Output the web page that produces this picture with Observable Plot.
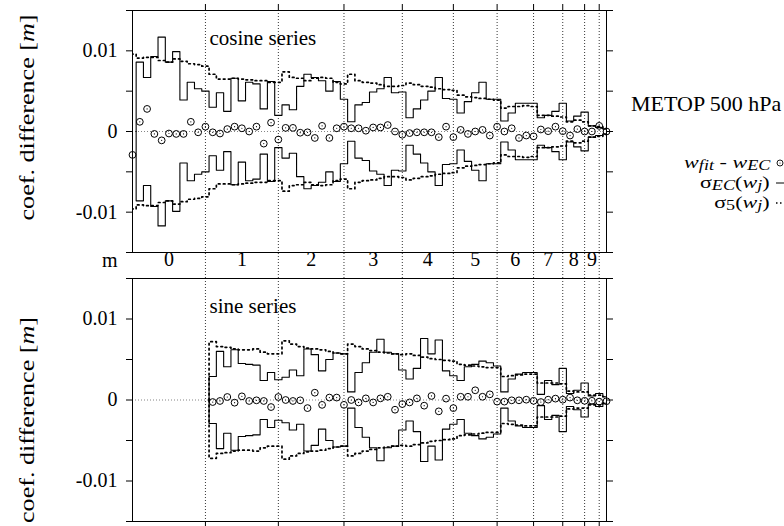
<!DOCTYPE html>
<html><head><meta charset="utf-8">
<script src="https://cdn.jsdelivr.net/npm/d3@7"></script>
<script src="https://cdn.jsdelivr.net/npm/@observablehq/plot@0.6"></script>
<style>
body{margin:0;background:#fff;}
#wrap{position:relative;width:784px;height:526px;overflow:hidden;background:#fff;font-family:"Liberation Serif","Times New Roman",serif;color:#000;}
#wrap svg{display:block;}
.leg{position:absolute;white-space:nowrap;font-size:17px;line-height:17px;transform:scaleX(1.3);transform-origin:right center;}
.leg sub{font-size:0.82em;vertical-align:-0.16em;line-height:0;}
.sym{position:absolute;}
</style></head><body><div id="wrap"></div>
<script>
// ---- axis / category data ----
const mBoundaries = [0, 10, 20, 29, 37, 44, 50, 55, 59, 62, 64];
const mLabels = ["0","1","2","3","4","5","6","7","8","9"];
const xDomain = [0, 65];
const yDomain = [-0.015, 0.015];
const yTickValues = [-0.01, 0, 0.01];
const yTickLabels = ["-0.01", "0", "0.01"];
const yMinorTicks = [-0.015, -0.005, 0.005, 0.015];

// ---- cosine series (coefficient index 0..65) ----
const cosStart = 0;
const cosDiff = [
 -0.0029, 0.0012, 0.0028, -0.0003, -0.0011, -0.00025, -0.0003, -0.0003, 0.0012, -0.0001,
 0.0006, -0.0001, -0.00025, 0.0003, 0.0006, 0.0004, 0, 0.0006, -0.0015, 0.0011,
 -0.001, 0.00045, 0.00045, -0.00015, -0.0001, -0.0008, 0.0007, -0.0008, 0.0004, 0.0006,
 0.0004, 0.0004, 0.0001, 0.0005, 0.0005, 0.0008, 0, -0.0004, -0.0002, -0.0001,
 -0.0001, -0.0001, -0.0007, 0.0006, -0.0007, 0.0002, -0.0003, 0, 0.0002, -0.0005,
 0.0006, 0, 0.0004, -0.0008, -0.0005, -0.0006, 0.00025, 0.00004, 0.0006, 0.00004,
 -0.0005, 0.0003, 0, 0, 0.0007, 0
];
const cosSigmaEC = [
 null, 0.0086, 0.0067, 0.0093, 0.0117, 0.0086, 0.0099, 0.0039, 0.0061, 0.0053,
 0.0050, 0.0030, 0.0048, 0.0025, 0.0066, 0.0038, 0.0061, 0.0059, 0.0028, 0.0062,
 0.0020, 0.0033, 0.0027, 0.0056, 0.0071, 0.0067, 0.0063, 0.0050, 0.0062, 0.0040,
 0.0012, 0.0033, 0.0036, 0.0049, 0.0053, 0.0067, 0.0048, 0.0049, 0.0017, 0.0028,
 0.0039, 0.0050, 0.0067, 0.0041, 0.0040, 0.0023, 0.0037, 0.0048, 0.0061, 0.0040,
 0.0040, 0.0013, 0.0023, 0.0035, 0.0035, 0.0035, 0.0017, 0.0020, 0.0025, 0.0035,
 0.0013, 0.0019, 0.0024, 0.0007, 0.0005, 0.0003
];
const cosSigma5 = [
 0.0096, 0.0091, 0.0092, 0.0092, 0.0088, 0.0086, 0.0090, 0.0087, 0.0084, 0.0083,
 0.0081, 0.0071, 0.0065, 0.0065, 0.0066, 0.0065, 0.0064, 0.0063, 0.0063, 0.0061,
 0.0061, 0.0074, 0.0067, 0.0066, 0.0063, 0.0066, 0.0067, 0.0066, 0.0061, 0.0059,
 0.0071, 0.0063, 0.0061, 0.0060, 0.0058, 0.0056, 0.0056, 0.0057, 0.0060, 0.0058,
 0.0056, 0.0055, 0.0053, 0.0052, 0.0051, 0.0045, 0.0043, 0.0042, 0.0041, 0.0040,
 0.0039, 0.0029, 0.0031, 0.0031, 0.0032, 0.0031, 0.0020, 0.0020, 0.0019, 0.0018,
 0.0012, 0.0014, 0.0012, 0.0007, 0.0006, 0.0004
];

// ---- sine series (coefficient index 11..65) ----
const sinStart = 11;
const sinDiff = [
 -0.00025, -0.00012, 0.00037, -0.00033, 0.00045, -0.00012, -0.00004, -0.00012, -0.00087,
 0.00037, 0, -0.00012, -0.00004, -0.001, 0.0009, -0.0006, 0.0003, 0.0003, -0.0006,
 0, -0.0003, 0.0002, -0.0003, 0.0002, 0.0004, -0.0012, -0.0005, -0.0003, 0.0002,
 -0.0007, 0.0005, -0.0014, 0.00017, -0.001, 0.0004, 0.0004, 0.0012, 0.0004, 0.0007,
 -0.0002, -0.0002, -0.00004, -0.00004, 0.00004, -0.0001, -0.00025, 0.00004, 0.00017, 0.00004,
 0.0003, -0.00004, -0.0001, -0.0001, -0.0002, -0.00015
];
const sinSigmaEC = [
 0.0029, 0.0060, 0.0041, 0.0062, 0.0045, 0.0044, 0.0043, 0.0024, 0.0034,
 0.0025, 0.0028, 0.0037, 0.0030, 0.0063, 0.0056, 0.0036, 0.0050, 0.0058, 0.0057,
 0.0010, 0.0034, 0.0046, 0.0059, 0.0075, 0.0059, 0.0057, 0.0037, 0.0026, 0.0039,
 0.0076, 0.0057, 0.0074, 0.0036, 0.0030, 0.0024, 0.0041, 0.0044, 0.0048, 0.0046,
 0.0042, 0.0010, 0.0026, 0.0032, 0.0034, 0.0034, 0.0007, 0.0024, 0.0019, 0.0039,
 0.0008, 0.0012, 0.0021, 0.0005, 0.0008, 0.0004
];
const sinSigma5 = [
 0.0072, 0.0066, 0.0065, 0.0063, 0.0062, 0.0062, 0.0063, 0.0059, 0.0057,
 0.0057, 0.0073, 0.0069, 0.0066, 0.0064, 0.0063, 0.0062, 0.0060, 0.0058, 0.0057,
 0.0069, 0.0066, 0.0063, 0.0061, 0.0059, 0.0058, 0.0057, 0.0056, 0.0057, 0.0055,
 0.0053, 0.0051, 0.0050, 0.0049, 0.0048, 0.0044, 0.0043, 0.0042, 0.0041, 0.0040,
 0.0040, 0.0029, 0.0030, 0.0031, 0.0032, 0.0032, 0.0021, 0.0021, 0.0021, 0.0020,
 0.0011, 0.0010, 0.0010, 0.0006, 0.0006, 0.0004
];

const FONT = '"Liberation Serif","Times New Roman",serif';
const YTITLE = "coef. difference [m]";

// histogram-step outline (steps centred on each coefficient, starting/ending at zero)
function histep(vals, start, sign) {
  const pts = [];
  let first = true, last = start;
  vals.forEach((v, k) => {
    if (v == null) return;
    const i = start + k;
    if (first) { pts.push({x: i - 0.5, y: 0}); first = false; }
    pts.push({x: i - 0.5, y: sign * v}, {x: i + 0.5, y: sign * v});
    last = i;
  });
  pts.push({x: last + 0.5, y: 0});
  return pts;
}
function points(vals, start) {
  return vals.map((v, k) => ({x: start + k, y: v})).filter(d => d.y != null);
}
const centers = mLabels.map((d, i) => (mBoundaries[i] + mBoundaries[i + 1]) / 2);
const fmtY = d => yTickLabels[yTickValues.indexOf(d)] ?? "";

function panelMarks(diff, dStart, ec, s5, sStart, title, isTop) {
  const solid = {x: "x", y: "y", stroke: "#000", strokeWidth: 1.1, clip: true};
  const dotted = {x: "x", y: "y", stroke: "#000", strokeWidth: 1.7, strokeDasharray: "1.7,3.3", clip: true};
  const pts = points(diff, dStart);
  return [
    Plot.ruleY([0], {stroke: "#777", strokeWidth: 0.9, strokeDasharray: "1,2"}),
    Plot.ruleX(mBoundaries.slice(1), {stroke: "#000", strokeWidth: 0.8, strokeDasharray: "1,2", insetBottom: isTop ? -26 : 0}),
    Plot.line(histep(s5, sStart, 1), dotted),
    Plot.line(histep(s5, sStart, -1), dotted),
    Plot.line(histep(ec, sStart, 1), solid),
    Plot.line(histep(ec, sStart, -1), solid),
    Plot.dot(pts, {x: "x", y: "y", r: 3.4, stroke: "#000", strokeWidth: 1, fill: "none"}),
    Plot.dot(pts, {x: "x", y: "y", r: 0.6, fill: "#000"}),
    Plot.frame({stroke: "#000", strokeWidth: 1}),
    Plot.axisY({ticks: yTickValues, anchor: "left", tickSize: 6, tickPadding: 9, tickFormat: fmtY, label: null, fontSize: 20}),
    Plot.axisY({ticks: yMinorTicks, anchor: "left", tickSize: 6, tickFormat: () => "", label: null}),
    Plot.axisY({ticks: yTickValues.concat(yMinorTicks), anchor: "right", tickSize: 6, tickFormat: () => "", label: null}),
    Plot.axisX({ticks: mBoundaries.slice(1), anchor: isTop ? "top" : "bottom", tickSize: 7, tickFormat: () => "", label: null}),
    Plot.text([title], {frameAnchor: "top-left", dx: 77, dy: 20, textAnchor: "start", fontSize: 21}),
    Plot.text([YTITLE], {frameAnchor: "left", dx: -106, dy: isTop ? -14 : 20, rotate: -90, textAnchor: "middle", fontSize: 22})
  ];
}

const style = {background: "white", color: "black", fontFamily: FONT, fontSize: "20px", overflow: "visible"};

const topPlot = Plot.plot({
  width: 784, height: 278, marginLeft: 132, marginRight: 178, marginTop: 10, marginBottom: 26,
  style,
  x: {domain: xDomain},
  y: {domain: yDomain},
  marks: [
    ...panelMarks(cosDiff, cosStart, cosSigmaEC, cosSigma5, cosStart, "cosine series", true),
    Plot.text(mLabels, {x: (d, i) => centers[i], frameAnchor: "bottom", dy: 13, fontSize: 20}),
    Plot.text(["m"], {frameAnchor: "bottom-left", dx: -15, dy: 14, textAnchor: "end", fontSize: 20})
  ]
});

const botPlot = Plot.plot({
  width: 784, height: 248, marginLeft: 132, marginRight: 178, marginTop: 0, marginBottom: 5,
  style,
  x: {domain: xDomain},
  y: {domain: yDomain},
  marks: panelMarks(sinDiff, sinStart, sinSigmaEC, sinSigma5, sinStart, "sine series", false)
});

for (const svg of [topPlot, botPlot]) {
  d3.select(svg).selectAll("text").each(function () {
    if (this.textContent === YTITLE) {
      this.innerHTML = 'coef. difference [<tspan font-style="italic">m</tspan>]';
      this.setAttribute("textLength", 206);
      this.setAttribute("lengthAdjust", "spacingAndGlyphs");
    }
  });
}

const wrap = document.getElementById("wrap");
wrap.appendChild(topPlot);
wrap.appendChild(botPlot);

// ---- legend (right side) ----
const legTitle = "METOP 500 hPa";
const legendRows = [
  {html: '<i>w</i><sub><i>fit</i></sub> - <i>w</i><sub><i>EC</i></sub>', cy: 163, sym: "circle"},
  {html: 'σ<sub><i>EC</i></sub>(<i>w</i><sub><i>j</i></sub>)', cy: 183, sym: "solid"},
  {html: 'σ<sub>5</sub>(<i>w</i><sub><i>j</i></sub>)', cy: 203, sym: "dotted"}
];
const t = document.createElement("div");
t.style.cssText = "position:absolute;white-space:nowrap;left:631px;top:93px;font-size:22px;line-height:22px;";
t.textContent = legTitle;
wrap.appendChild(t);
legendRows.forEach(r => {
  const d = document.createElement("div");
  d.className = "leg";
  d.style.right = "14px";
  d.style.top = (r.cy - 9) + "px";
  d.innerHTML = r.html;
  wrap.appendChild(d);
  const s = d3.select(wrap).append("svg").attr("class", "sym")
    .attr("width", 12).attr("height", 10)
    .style("left", "775px").style("top", (r.cy - 5) + "px");
  if (r.sym === "circle") {
    s.append("circle").attr("cx", 5).attr("cy", 5).attr("r", 3).attr("fill", "none").attr("stroke", "#000").attr("stroke-width", 0.9);
    s.append("circle").attr("cx", 5).attr("cy", 5).attr("r", 0.6).attr("fill", "#000");
  } else {
    s.append("line").attr("x1", 1).attr("x2", 11).attr("y1", 5).attr("y2", 5)
      .attr("stroke", "#000").attr("stroke-width", r.sym === "solid" ? 1 : 1.5)
      .attr("stroke-dasharray", r.sym === "solid" ? null : "1.5,2.5");
  }
});
</script></body></html>
